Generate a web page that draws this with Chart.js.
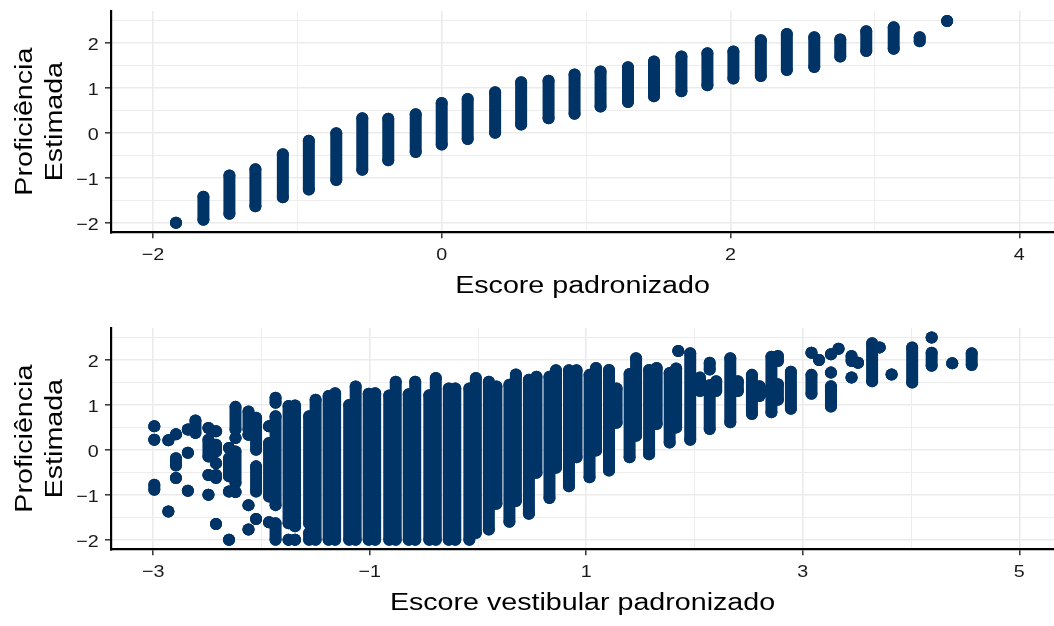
<!DOCTYPE html>
<html lang="pt">
<head>
<meta charset="utf-8">
<title>Proficiência estimada x escore padronizado</title>
<script src="https://cdn.jsdelivr.net/npm/chart.js@4.4.1/dist/chart.umd.min.js"></script>
<style>
  html, body { margin: 0; padding: 0; background: #fff; overflow: hidden; }
  .panel { position: absolute; left: 0; width: 1054px; height: 313px; }
  #p1 { top: 0; }
  #p2 { top: 317px; }
</style>
</head>
<body>
<div class="panel" id="p1"><canvas id="c1" width="1054" height="313"></canvas></div>
<div class="panel" id="p2"><canvas id="c2" width="1054" height="313"></canvas></div>
<script>
// ---- Painel 1: escore padronizado (cada coluna = faixa de proficiências num mesmo escore)
const escoreX   = [-1.84, -1.65, -1.47, -1.29, -1.10, -0.92, -0.73, -0.55, -0.37, -0.18,
                    0.00,  0.18,  0.37,  0.55,  0.74,  0.92,  1.10,  1.29,  1.47,  1.66,
                    1.84,  2.02,  2.21,  2.39,  2.58,  2.76,  2.94,  3.13,  3.31,  3.50];
const escoreMin = [-2.00, -1.93, -1.80, -1.63, -1.43, -1.26, -1.05, -0.82, -0.61, -0.43,
                   -0.26, -0.14,  0.00,  0.18,  0.32,  0.42,  0.58,  0.68,  0.81,  0.92,
                    1.05,  1.20,  1.26,  1.39,  1.46,  1.69,  1.81,  1.86,  2.03,  2.48];
const escoreMax = [-2.00, -1.42, -0.95, -0.81, -0.48, -0.18, -0.01,  0.32,  0.31,  0.41,
                    0.66,  0.75,  0.90,  1.12,  1.15,  1.29,  1.36,  1.45,  1.58,  1.69,
                    1.76,  1.80,  2.05,  2.19,  2.12,  2.07,  2.25,  2.34,  2.12,  2.48];

// ---- Painel 2: escore vestibular padronizado (trechos contínuos de pontos por escore)
const vestX = [
  -2.99, -2.99, -2.99, -2.86, -2.86, -2.79, -2.79, -2.79, -2.68, -2.68, -2.68, -2.61,
  -2.49, -2.49, -2.49, -2.49, -2.42, -2.42, -2.42, -2.42, -2.42,
  -2.30, -2.30, -2.30, -2.30, -2.24, -2.24, -2.24, -2.24,
  -2.12, -2.12, -2.12, -2.12, -2.05, -2.05, -2.05, -1.93, -1.93, -1.93,
  -1.87, -1.87, -1.87, -1.75, -1.75, -1.69, -1.69, -1.56, -1.56,
  -1.50, -1.38, -1.32, -1.19, -1.13, -1.01, -0.95, -0.82, -0.76, -0.64, -0.58,
  -0.45, -0.39, -0.27, -0.21, -0.08, -0.02, 0.10, 0.17, 0.29, 0.35, 0.47, 0.54,
  0.66, 0.72, 0.84, 0.91, 1.03, 1.09, 1.21, 1.28, 1.40, 1.46, 1.58, 1.65,
  1.77, 1.83, 1.85, 1.96, 2.05, 2.14, 2.14, 2.20, 2.33, 2.40, 2.53, 2.60, 2.71,
  2.77, 2.77, 2.89, 3.08, 3.08, 3.15, 3.26, 3.26, 3.26, 3.33, 3.45, 3.45, 3.51,
  3.64, 3.71, 3.82, 4.01, 4.19, 4.19, 4.38, 4.56
];
const vestMin = [
   0.52,  0.22, -0.89,  0.21, -1.37,  0.34, -0.35, -0.63,  0.45, -0.07, -0.91,  0.37,
   0.48, -0.15, -0.56, -1.00,  0.41, -0.04, -0.30, -0.63, -1.65,
   0.04, -0.59, -0.93, -2.00,  0.45,  0.26, -0.74, -0.94,
   0.45,  0.33, -1.23, -1.77,  0.00, -0.93, -1.54,  0.52, -1.04, -1.61,
   1.04, -1.23, -2.00, -1.63, -2.00, -1.70, -2.00, -1.63, -2.00,
  -2.00, -2.00, -2.00, -2.00, -2.00, -2.00, -2.00, -2.00, -2.00, -2.00, -2.00,
  -2.00, -2.00, -2.00, -2.00, -2.00, -1.85, -1.77, -1.20, -1.60, -1.14, -1.42, -0.51,
  -1.07, -0.40, -0.81, -0.17, -0.61, -0.02, -0.46,  0.60, -0.17,  0.31, -0.10,  0.57,
   0.16,  0.49,  2.19,  0.22,  1.30,  0.46,  1.78,  1.30,  0.61,  1.30,  0.79,  1.19,  0.83,
   1.97,  1.11,  0.91,  2.15,  1.24,  1.99,  2.12,  1.71,  0.96,  2.24,  1.97,  1.60,  1.93,
   1.52,  2.27,  1.67,  1.49,  2.49,  1.86,  1.92,  1.88
];
const vestMax = [
   0.52,  0.22, -0.78,  0.21, -1.37,  0.34, -0.19, -0.63,  0.45, -0.07, -0.91,  0.65,
   0.48,  0.22, -0.56, -1.00,  0.41,  0.11, -0.30, -0.56, -1.65,
   0.04, -0.19, -0.93, -2.00,  0.95,  0.26, -0.04, -0.94,
   0.85,  0.33, -1.23, -1.77,  0.71, -0.37, -1.54,  0.52,  0.15, -1.61,
   1.15,  0.74, -1.63,  0.97, -2.00,  0.98, -2.00,  0.74, -1.85,
   1.11,  1.19,  1.25,  0.99,  1.40,  1.24,  1.25,  1.20,  1.51,  1.23,  1.51,
   1.21,  1.59,  1.36,  1.36,  1.36,  1.59,  1.51,  1.40,  1.44,  1.67,  1.55,  1.62,
   1.62,  1.76,  1.76,  1.76,  1.66,  1.81,  1.77,  1.36,  1.68,  2.03,  1.77,  1.81,
   1.70,  1.80,  2.19,  2.14,  1.60,  1.43,  1.93,  1.52,  2.03,  1.52,  1.66,  1.41,  2.06,
   2.08,  1.45,  1.73,  2.15,  1.66,  1.99,  2.12,  1.71,  1.41,  2.24,  2.08,  1.60,  1.93,
   2.36,  2.27,  1.67,  2.27,  2.49,  2.15,  1.92,  2.14
];

// ---- Eixos
const profGrid   = [-2, -1.5, -1, -0.5, 0, 0.5, 1, 1.5, 2, 2.5];
const profLabels = [-2, -1, 0, 1, 2];
const escoreGrid   = [-2, -1, 0, 1, 2, 3, 4];
const escoreLabels = [-2, 0, 2, 4];
const vestGrid   = [-3, -2, -1, 0, 1, 2, 3, 4, 5];
const vestLabels = [-3, -1, 1, 3, 5];

const NAVY = '#003366';
const FONT = 'Liberation Sans';

// Texto levemente alargado no sentido da escrita (como no dispositivo gráfico original)
function widenText(ctx, k) {
  const fill = ctx.fillText;
  const measure = ctx.measureText;
  ctx.fillText = function (text, x, y) {
    this.save();
    this.translate(x, y);
    this.scale(k, 1);
    fill.call(this, text, 0, 0);
    this.restore();
  };
  ctx.measureText = function (text) {
    const m = measure.call(this, text);
    return {
      width: m.width * k,
      actualBoundingBoxAscent: m.actualBoundingBoxAscent,
      actualBoundingBoxDescent: m.actualBoundingBoxDescent,
      actualBoundingBoxLeft: m.actualBoundingBoxLeft * k,
      actualBoundingBoxRight: m.actualBoundingBoxRight * k
    };
  };
}

const fmt = v => String(v).replace('-', '\u2212');

// Cada trecho vira um segmento de linha com pontas redondas entre min e max
function runsToPoints(xs, lo, hi) {
  const pts = [];
  xs.forEach((x, i) => {
    pts.push({ x: x, y: lo[i] }, { x: x, y: hi[i] }, { x: x, y: null });
  });
  return pts;
}

function axisGrid(labels) {
  const isLab = c => labels.includes(c.tick.value);
  return {
    color: '#ebebeb',
    lineWidth: c => (isLab(c) ? 1.6 : 0.9),
    tickColor: c => (isLab(c) ? '#333333' : 'rgba(0,0,0,0)'),
    tickLength: 6,
    tickWidth: 1.5
  };
}

function makePanel(canvasId, xs, lo, hi, xMin, xMax, xGrid, xLabels, xTitle) {
  const ctx = document.getElementById(canvasId).getContext('2d');
  widenText(ctx, 1.16);
  return new Chart(ctx, {
    type: 'scatter',
    data: {
      datasets: [{
        data: runsToPoints(xs, lo, hi),
        showLine: true,
        spanGaps: false,
        borderColor: NAVY,
        borderWidth: 12,
        borderCapStyle: 'round',
        borderJoinStyle: 'round',
        backgroundColor: NAVY,
        pointBackgroundColor: NAVY,
        pointBorderWidth: 0,
        pointRadius: 6,
        pointHoverRadius: 6
      }]
    },
    options: {
      responsive: false,
      animation: false,
      events: [],
      layout: { autoPadding: false, padding: { top: 11, left: 0, right: 0, bottom: 0 } },
      plugins: { legend: { display: false }, tooltip: { enabled: false } },
      scales: {
        x: {
          type: 'linear',
          min: xMin,
          max: xMax,
          afterBuildTicks: s => { s.ticks = xGrid.map(v => ({ value: v })); },
          afterFit: s => { s.height = 80.7; s.paddingLeft = 0; s.paddingRight = 0; },
          ticks: {
            autoSkip: false,
            maxRotation: 0,
            padding: 6.5,
            color: '#1a1a1a',
            font: { family: FONT, size: 17 },
            callback: v => (xLabels.includes(v) ? fmt(v) : '')
          },
          grid: axisGrid(xLabels),
          border: { display: true, color: '#000000', width: 2.2 },
          title: {
            display: true,
            text: xTitle,
            color: '#000000',
            font: { family: FONT, size: 24.7, lineHeight: 1.215 },
            padding: { top: 0, bottom: 12 }
          }
        },
        y: {
          type: 'linear',
          min: -2.21,
          max: 2.70,
          afterBuildTicks: s => { s.ticks = profGrid.map(v => ({ value: v })); },
          afterFit: s => { s.width = 111; s.paddingTop = 0; s.paddingBottom = 0; },
          ticks: {
            autoSkip: false,
            padding: 6.2,
            labelOffset: 2.7,
            color: '#1a1a1a',
            font: { family: FONT, size: 17 },
            callback: v => (profLabels.includes(v) ? fmt(v) : '')
          },
          grid: axisGrid(profLabels),
          border: { display: true, color: '#000000', width: 2.2 },
          title: {
            display: true,
            text: ['Proficiência', 'Estimada'],
            color: '#000000',
            font: { family: FONT, size: 24.7, lineHeight: 1.215 },
            padding: { top: 9.7, bottom: 0 }
          }
        }
      }
    }
  });
}

makePanel('c1', escoreX, escoreMin, escoreMax, -2.29, 4.24, escoreGrid, escoreLabels, 'Escore padronizado');
makePanel('c2', vestX, vestMin, vestMax, -3.39, 5.32, vestGrid, vestLabels, 'Escore vestibular padronizado');
</script>
</body>
</html>
